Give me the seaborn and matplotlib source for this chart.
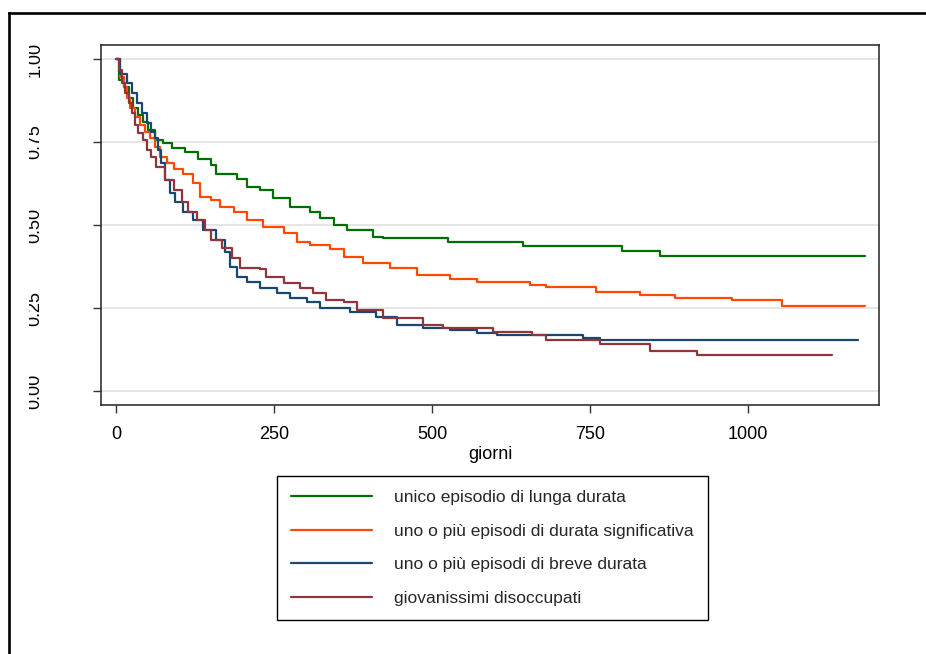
import matplotlib
matplotlib.use("Agg")
import matplotlib.pyplot as plt
import seaborn as sns
import pandas as pd
from matplotlib.lines import Line2D
from matplotlib.transforms import Bbox, TransformedBbox

# ---- data ----
labels = [
    "unico episodio di lunga durata",
    "uno o più episodi di durata significativa",
    "uno o più episodi di breve durata",
    "giovanissimi disoccupati",
]
colors = ["#006e00", "#ff4a00", "#1a476f", "#90353b"]

green_days = [0, 4, 12, 20, 27, 35, 43, 51, 62, 75, 88, 109, 130, 151, 159, 191, 207, 228, 249, 275, 307, 323, 345, 365, 407, 423, 525, 644, 800, 861, 1185]
green_surv = [1.0, 0.937, 0.917, 0.881, 0.851, 0.831, 0.811, 0.786, 0.756, 0.748, 0.731, 0.721, 0.70, 0.681, 0.655, 0.64, 0.615, 0.605, 0.58, 0.555, 0.54, 0.52, 0.50, 0.485, 0.465, 0.46, 0.45, 0.437, 0.423, 0.408, 0.408]

orange_days = [0, 6, 12, 17, 22, 30, 38, 46, 54, 62, 70, 80, 91, 106, 122, 133, 151, 165, 186, 207, 233, 265, 286, 307, 339, 360, 391, 434, 476, 528, 571, 655, 681, 760, 829, 884, 974, 1053, 1185]
orange_surv = [1.0, 0.947, 0.917, 0.881, 0.851, 0.826, 0.801, 0.781, 0.761, 0.736, 0.706, 0.686, 0.67, 0.655, 0.625, 0.585, 0.575, 0.555, 0.54, 0.515, 0.495, 0.475, 0.45, 0.44, 0.427, 0.405, 0.385, 0.37, 0.35, 0.337, 0.327, 0.319, 0.312, 0.297, 0.289, 0.281, 0.274, 0.256, 0.256]

blue_days = [0, 6, 17, 25, 33, 41, 49, 56, 62, 67, 71, 78, 85, 93, 106, 122, 138, 159, 172, 180, 191, 207, 228, 254, 275, 302, 323, 370, 412, 444, 486, 528, 571, 602, 739, 766, 1174]
blue_surv = [1.0, 0.956, 0.927, 0.897, 0.867, 0.836, 0.806, 0.781, 0.761, 0.726, 0.686, 0.636, 0.595, 0.57, 0.54, 0.515, 0.485, 0.455, 0.42, 0.374, 0.344, 0.329, 0.31, 0.294, 0.279, 0.269, 0.249, 0.239, 0.224, 0.199, 0.189, 0.184, 0.174, 0.169, 0.161, 0.154, 0.154]

red_days = [0, 4, 9, 14, 20, 25, 30, 35, 43, 49, 56, 64, 78, 91, 104, 114, 128, 141, 151, 167, 183, 196, 228, 238, 265, 291, 312, 333, 360, 381, 423, 486, 518, 597, 658, 681, 766, 845, 919, 1132]
red_surv = [1.0, 0.967, 0.927, 0.897, 0.867, 0.836, 0.801, 0.776, 0.756, 0.726, 0.706, 0.675, 0.636, 0.605, 0.57, 0.54, 0.515, 0.485, 0.455, 0.43, 0.40, 0.37, 0.367, 0.344, 0.324, 0.31, 0.294, 0.274, 0.269, 0.244, 0.219, 0.199, 0.189, 0.179, 0.169, 0.155, 0.141, 0.12, 0.108, 0.108]

x_ticks = [0, 250, 500, 750, 1000]
y_ticks = [0.0, 0.25, 0.5, 0.75, 1.0]
y_ticklabels = ["0.00", "0.25", "0.50", "0.75", "1.00"]

frames = []
for lab, d, s in zip(labels,
                     [green_days, orange_days, blue_days, red_days],
                     [green_surv, orange_surv, blue_surv, red_surv]):
    frames.append(pd.DataFrame({"giorni": d, "surv": s, "gruppo": lab}))
df = pd.concat(frames, ignore_index=True)

# ---- style ----
sns.set_theme(style="white")
plt.rcParams["font.family"] = ["Liberation Sans", "DejaVu Sans"]

W, H = 926, 654
fig = plt.figure(figsize=(W / 100, H / 100), dpi=100)
fig.patch.set_facecolor("white")
ax = fig.add_axes([101 / W, 1 - 405 / H, 778 / W, 360 / H])

sns.lineplot(data=df, x="giorni", y="surv", hue="gruppo", hue_order=labels,
             palette=colors, drawstyle="steps-post", estimator=None,
             linewidth=1.6, ax=ax, legend=True)

ax.set_xlim(-23.7, 1207)
ax.set_ylim(-0.042, 1.042)
ax.set_xticks(x_ticks)
ax.set_yticks(y_ticks)
ax.set_yticklabels(y_ticklabels, rotation=90, va="center")
ax.set_ylabel("")
ax.set_xlabel("giorni", fontsize=13, color="black", labelpad=2)

ax.grid(axis="y", color="#e0e0e0", linewidth=1.2)
ax.grid(axis="x", visible=False)
ax.set_axisbelow(True)
for sp in ax.spines.values():
    sp.set_color("#222222")
    sp.set_linewidth(1.1)

ax.tick_params(axis="x", direction="out", length=6, width=1, color="#333333",
               labelsize=13, labelcolor="black", pad=9, bottom=True)
ax.tick_params(axis="y", direction="out", length=6, width=1, color="#333333",
               labelsize=13, labelcolor="black", pad=35.5, left=True)

clip = TransformedBbox(Bbox([[28.5 / W, 0], [1, 1]]), fig.transFigure)
for t in ax.yaxis.get_major_ticks():
    t.label1.set_clip_box(clip)
    t.label1.set_clip_on(True)

# legend
handles, labs = ax.get_legend_handles_labels()
ax.legend(handles=handles, labels=labs, loc="upper left",
          bbox_to_anchor=(277 / W, 1 - 476 / H), bbox_transform=fig.transFigure,
          borderaxespad=0,
          frameon=True, fancybox=False, edgecolor="black", framealpha=1,
          fontsize=12.5, handlelength=4.66, handletextpad=1.3, labelspacing=1.07,
          borderpad=0.8, title=None)
ax.get_legend().get_frame().set_linewidth(1.0)
for ln in ax.get_legend().get_lines():
    ln.set_linewidth(1.6)

# outer frame (left and top edges)
fig.add_artist(Line2D([9 / W, 9 / W], [0, 1 - 12.5 / H], transform=fig.transFigure,
                      color="black", linewidth=1.9, solid_capstyle="projecting"))
fig.add_artist(Line2D([9 / W, 1], [1 - 12.5 / H, 1 - 12.5 / H], transform=fig.transFigure,
                      color="black", linewidth=1.9, solid_capstyle="projecting"))

fig.savefig("out.png", dpi=100)
